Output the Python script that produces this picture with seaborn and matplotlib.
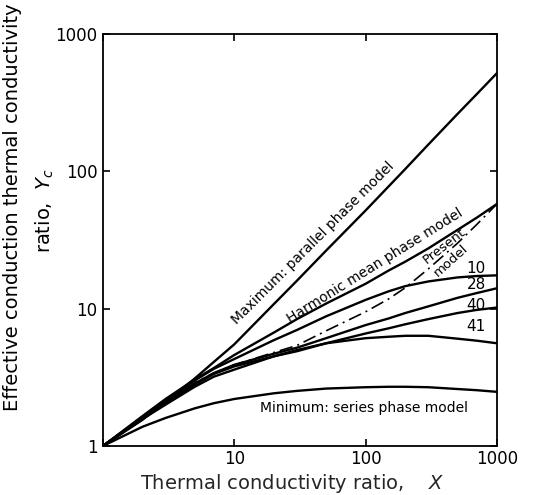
import numpy as np
import pandas as pd
import matplotlib
matplotlib.use("Agg")
import matplotlib.pyplot as plt
import seaborn as sns

# Thermal conductivity ratio X at which each curve is tabulated
x_vals = [1, 2, 3, 5, 7, 10, 20, 30, 50, 100, 150, 200, 300, 500, 700, 1000]

# Effective conduction thermal conductivity ratio Yc for each model / sample
y_parallel = [1, 1.55, 2.1, 3.1, 4.1, 5.5, 10.8, 16, 26.5, 52, 78, 104, 157, 262, 365, 521]
y_harmonic = [1, 1.65, 2.2, 3.05, 3.7, 4.6, 6.7, 8.4, 10.9, 15.2, 19, 22, 27.5, 37.5, 46, 58]
y_present = [1, 1.6, 2.1, 2.9, 3.4, 3.9, 4.8, 5.4, 6.9, 9.5, 11.8, 14.2, 19.5, 30, 41, 58]
y_s10 = [1, 1.62, 2.15, 3.0, 3.65, 4.3, 5.9, 7.0, 8.8, 11.6, 13.4, 14.6, 15.8, 16.9, 17.3, 17.5]
y_s28 = [1, 1.6, 2.1, 2.85, 3.4, 3.9, 4.7, 5.2, 6.1, 7.6, 8.5, 9.3, 10.4, 12.0, 13.0, 14.1]
y_s40 = [1, 1.58, 2.05, 2.8, 3.35, 3.8, 4.5, 4.9, 5.6, 6.6, 7.2, 7.7, 8.4, 9.3, 9.8, 10.2]
y_s41 = [1, 1.57, 2.0, 2.7, 3.2, 3.6, 4.5, 5.0, 5.6, 6.1, 6.25, 6.35, 6.35, 6.05, 5.85, 5.6]
y_series = [1, 1.38, 1.6, 1.88, 2.05, 2.2, 2.42, 2.52, 2.62, 2.68, 2.7, 2.7, 2.68, 2.6, 2.55, 2.48]

tick_vals = [1, 10, 100, 1000]
x_tick_labels = ["", "10", "100", "1000"]
y_tick_labels = ["1", "10", "100", "1000"]

solid_curves = {
    "parallel": y_parallel,
    "harmonic": y_harmonic,
    "10": y_s10,
    "28": y_s28,
    "40": y_s40,
    "41": y_s41,
    "series": y_series,
}

sns.set_theme(style="ticks")
plt.rcParams["font.family"] = ["DejaVu Sans"]

fig = plt.figure(figsize=(5.33, 4.95), dpi=100)
ax = fig.add_axes([0.193, 0.099, 0.7395, 0.832])

for name, ys in solid_curves.items():
    df = pd.DataFrame({"X": x_vals, "Y": ys})
    sns.lineplot(data=df, x="X", y="Y", ax=ax, color="black", lw=1.7,
                 sort=False, estimator=None)

df_present = pd.DataFrame({"X": x_vals, "Y": y_present})
sns.lineplot(data=df_present, x="X", y="Y", ax=ax, color="black", lw=1.2,
             sort=False, estimator=None, linestyle=(0, (8, 3, 1.2, 3)))

ax.set_xscale("log")
ax.set_yscale("log")
ax.set_xlim(1, 1000)
ax.set_ylim(1, 1000)
ax.set_xticks(tick_vals)
ax.set_xticklabels(x_tick_labels)
ax.set_yticks(tick_vals)
ax.set_yticklabels(y_tick_labels)
ax.minorticks_off()
ax.tick_params(which="major", direction="in", length=5, width=1.2,
               top=True, right=True, labelsize=12, colors="black")
ax.tick_params(axis="x", pad=3)
ax.tick_params(axis="y", pad=4)
for sp in ax.spines.values():
    sp.set_linewidth(1.3)
    sp.set_color("black")

ax.set_xlabel("Thermal conductivity ratio,    $\\mathit{X}$", fontsize=14)
ax.xaxis.label.set_va("center")
ax.xaxis.set_label_coords(0.48, -0.092)
ax.set_ylabel("")

# Two-line y-axis title
fig.text(13 / 533, 1 - 207 / 495, "Effective conduction thermal conductivity",
         rotation=90, ha="center", va="center", fontsize=14, color="black")
fig.text(45 / 533, 1 - 211 / 495, "ratio,  $\\mathit{Y_c}$",
         rotation=90, ha="center", va="center", fontsize=14, color="black")

txt = dict(ha="center", va="center", rotation_mode="anchor", fontsize=10,
           color="black")
ax.text(40, 30, "Maximum: parallel phase model", rotation=45, **txt)
ax.text(118, 20.5, "Harmonic mean phase model", rotation=32, **txt)
ax.text(400, 28.5, "Present", rotation=38, **{**txt, "fontsize": 9.5})
ax.text(445, 22.5, "model", rotation=42, **{**txt, "fontsize": 9.5})
ax.text(98, 1.88, "Minimum: series phase model", rotation=0, **txt)

for lab, yv in [("10", 19.7), ("28", 14.9), ("40", 10.6), ("41", 7.4)]:
    ax.text(692, yv, lab, ha="center", va="center", fontsize=11, color="black")

fig.savefig("out.png", dpi=100)
